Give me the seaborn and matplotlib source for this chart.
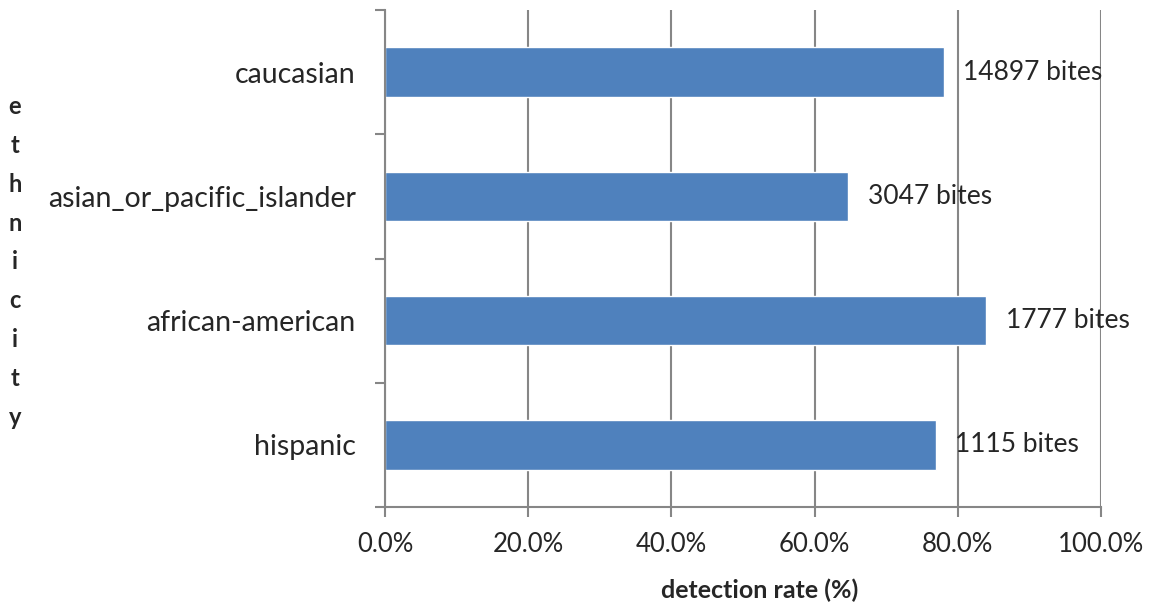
import matplotlib
matplotlib.use("Agg")
import matplotlib.pyplot as plt
import seaborn as sns
import pandas as pd
from matplotlib.ticker import PercentFormatter, FixedLocator

# data
ethnicity = ["caucasian", "asian_or_pacific_islander", "african-american", "hispanic"]
detection_rate = [78.0, 64.7, 84.0, 76.9]
bites = [14897, 3047, 1777, 1115]

GRAY = "#868686"
BLUE = "#4F81BD"

sns.set_theme(style="white")
plt.rcParams["font.family"] = ["Lato", "DejaVu Sans"]

df = pd.DataFrame({"ethnicity": ethnicity, "rate": detection_rate})

fig = plt.figure(figsize=(11.51, 6.11), dpi=100)
ax = fig.add_axes([0.3345, 0.1702, 0.6221, 0.8134])

sns.barplot(data=df, x="rate", y="ethnicity", orient="h", color=BLUE,
            saturation=1, width=0.4, ax=ax)

ax.set_xlim(0, 100)
ax.set_xticks([0, 20, 40, 60, 80, 100])
ax.xaxis.set_major_formatter(PercentFormatter(decimals=1))
ax.grid(axis="x", color=GRAY, linewidth=1.5)
ax.set_axisbelow(True)

for side in ["top", "right"]:
    ax.spines[side].set_visible(False)
for side in ["left", "bottom"]:
    ax.spines[side].set_color(GRAY)
    ax.spines[side].set_linewidth(1.5)

ax.tick_params(axis="x", direction="out", length=7, width=1.5, color=GRAY,
               pad=11, labelsize=18.5, bottom=True)
ax.tick_params(axis="y", which="major", length=0, pad=21, labelsize=20.5)
ax.yaxis.set_minor_locator(FixedLocator([-0.5, 0.5, 1.5, 2.5, 3.5]))
ax.tick_params(axis="y", which="minor", direction="out", length=7, width=1.5,
               color=GRAY, left=True)

ax.bar_label(ax.containers[0], labels=[f"{b} bites" for b in bites],
             padding=14, fontsize=19)

ax.set_xlabel("detection rate (%)", fontsize=18, fontweight="bold")
ax.xaxis.set_label_coords(0.523, -0.143)
ax.set_ylabel("\n".join("ethnicity"), rotation=0, fontsize=17,
              fontweight="bold", linespacing=1.83, ha="center", va="center")
ax.yaxis.set_label_coords(-0.517, 0.493)

fig.savefig("out.png", dpi=100)
